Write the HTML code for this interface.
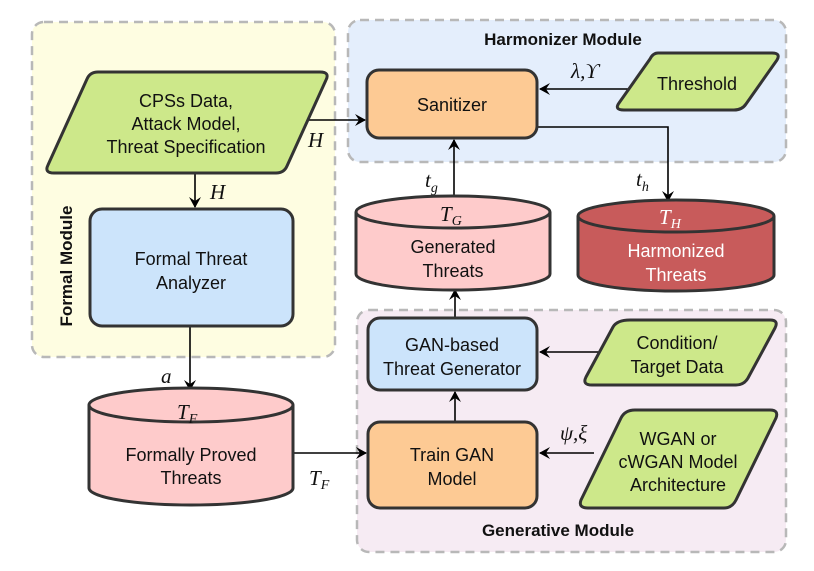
<!DOCTYPE html>
<html><head><meta charset="utf-8"><style>
html,body{margin:0;padding:0;background:#fff;}
svg{display:block;}
text{font-family:"Liberation Sans",sans-serif;font-size:18px;fill:#111;}
.m{font-family:"Liberation Serif",serif;font-style:italic;font-size:21px;}
.b{font-weight:bold;font-size:17px;}
</style></head><body>
<svg width="814" height="571" viewBox="0 0 814 571" xmlns="http://www.w3.org/2000/svg">
<defs>
<marker id="ar" markerWidth="12" markerHeight="12" refX="10" refY="6" orient="auto" markerUnits="userSpaceOnUse">
<path d="M0,0 L11,6 L0,12 L4,6 Z" fill="#000"/></marker>
</defs>
<rect x="32" y="22" width="303" height="335" rx="12" fill="#fefde1" stroke="#b8b8b8" stroke-width="2.5" stroke-dasharray="9,6"/>
<rect x="348" y="20" width="438" height="142" rx="12" fill="#e4eefc" stroke="#b8b8b8" stroke-width="2.5" stroke-dasharray="9,6"/>
<rect x="357" y="310" width="429" height="242" rx="12" fill="#f6ebf3" stroke="#b8b8b8" stroke-width="2.5" stroke-dasharray="9,6"/>
<text class="b" x="563" y="45" text-anchor="middle">Harmonizer Module</text>
<text class="b" x="558" y="536" text-anchor="middle">Generative Module</text>
<text class="b" transform="translate(72,266) rotate(-90)" text-anchor="middle">Formal Module</text>

<g stroke="#000" stroke-width="1.6" fill="none">
<line x1="195" y1="173" x2="195" y2="207" marker-end="url(#ar)"/>
<line x1="309" y1="120" x2="365" y2="120" marker-end="url(#ar)"/>
<line x1="628" y1="89" x2="540" y2="89" marker-end="url(#ar)"/>
<polyline points="537,127 668,127 668,201" marker-end="url(#ar)"/>
<line x1="454" y1="198" x2="454" y2="140" marker-end="url(#ar)"/>
<line x1="455" y1="318" x2="455" y2="290" marker-end="url(#ar)"/>
<line x1="600" y1="352" x2="540" y2="352" marker-end="url(#ar)"/>
<line x1="455" y1="422" x2="455" y2="392" marker-end="url(#ar)"/>
<line x1="594" y1="453" x2="540" y2="453" marker-end="url(#ar)"/>
<line x1="190" y1="326" x2="190" y2="390" marker-end="url(#ar)"/>
<line x1="293" y1="453" x2="366" y2="453" marker-end="url(#ar)"/>
</g>

<g stroke="#333" stroke-width="3" stroke-linejoin="round">
<path d="M98,72 L320,72 Q330,72 326,80 L287,166 Q284,173 276,173 L54,173 Q44,173 48,165 L87,79 Q90,72 98,72 Z" fill="#cde88a"/>
<rect x="90" y="209" width="203" height="117" rx="12" fill="#cce4fb"/>
<rect x="367" y="70" width="170" height="68" rx="12" fill="#fdca94"/>
<path d="M658,53 L772,53 Q781,53 777,60 L746,104 Q742,110 734,110 L624,110 Q614,110 619,103 L650,59 Q653,53 658,53 Z" fill="#cde88a"/>
<path d="M356,212 L356,274 A97,16 0 0 0 550,274 L550,212 A97,16 0 0 0 356,212 A97,16 0 0 0 550,212" fill="#fecbcb"/>
<path d="M578,216 L578,275 A98,16 0 0 0 774,275 L774,216 A98,16 0 0 0 578,216 A98,16 0 0 0 774,216" fill="#c85b5b"/>
<rect x="368" y="318" width="169" height="72" rx="12" fill="#cce4fb"/>
<path d="M630,320 L770,320 Q779,320 775,328 L748,378 Q744,385 736,385 L592,385 Q582,385 586,377 L613,327 Q617,320 630,320 Z" fill="#cde88a"/>
<rect x="368" y="422" width="169" height="86" rx="12" fill="#fdca94"/>
<path d="M635,410 L770,410 Q779,410 776,418 L736,500 Q732,508 724,508 L588,508 Q578,508 581,500 L621,418 Q625,410 635,410 Z" fill="#cde88a"/>
<path d="M89,405 L89,488 A102,17 0 0 0 293,488 L293,405 A102,17 0 0 0 89,405 A102,17 0 0 0 293,405" fill="#fecbcb"/>
</g>

<g text-anchor="middle">
<text x="186" y="107">CPSs Data,</text>
<text x="186" y="130">Attack Model,</text>
<text x="186" y="153">Threat Specification</text>
<text x="191" y="265">Formal Threat</text>
<text x="191" y="289">Analyzer</text>
<text x="452" y="111">Sanitizer</text>
<text x="697" y="90">Threshold</text>
<text x="453" y="253">Generated</text>
<text x="453" y="277">Threats</text>
<text x="676" y="257" style="fill:#fff">Harmonized</text>
<text x="676" y="281" style="fill:#fff">Threats</text>
<text x="452" y="351">GAN-based</text>
<text x="452" y="375">Threat Generator</text>
<text x="677" y="349">Condition/</text>
<text x="677" y="373">Target Data</text>
<text x="452" y="461">Train GAN</text>
<text x="452" y="485">Model</text>
<text x="678" y="445">WGAN or</text>
<text x="678" y="468">cWGAN Model</text>
<text x="678" y="491">Architecture</text>
<text x="191" y="461">Formally Proved</text>
<text x="191" y="484">Threats</text>
</g>
<g>
<text class="m" x="210" y="199">H</text>
<text class="m" x="308" y="147">H</text>
<text class="m" x="571" y="78">λ,ϒ</text>
<text class="m" x="636" y="186">t<tspan font-size="14" dy="5">h</tspan></text>
<text class="m" x="425" y="187">t<tspan font-size="14" dy="5">g</tspan></text>
<text class="m" x="440" y="221">T<tspan font-size="14" dy="4">G</tspan></text>
<text class="m" x="659" y="224" style="fill:#fff">T<tspan font-size="14" dy="4" style="fill:#fff">H</tspan></text>
<text class="m" x="560" y="440">ψ,ξ</text>
<text class="m" x="161" y="383">a</text>
<text class="m" x="177" y="419">T<tspan font-size="14" dy="4">F</tspan></text>
<text class="m" x="309" y="485">T<tspan font-size="14" dy="4">F</tspan></text>
</g>
</svg>
</body></html>
